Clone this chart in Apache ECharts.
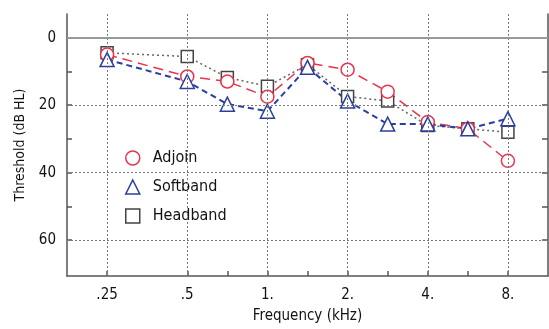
<!DOCTYPE html>
<html>
<head>
<meta charset="utf-8">
<script src="https://cdn.jsdelivr.net/npm/echarts@6/dist/echarts.min.js"></script>
<style>
  html, body { margin: 0; padding: 0; background: #fff; }
  #audiogram { width: 549px; height: 329px; }
</style>
</head>
<body>
<div id="audiogram"></div>
<script>
// frequency positions on the audiogram (750, 1500, 3000, 6000 sit halfway)
var freqPos = [0, 2, 3, 4, 5, 6, 7, 8, 9, 10];
var freqLabels = { 0: '.25', 2: '.5', 4: '1.', 6: '2.', 8: '4.', 10: '8.' };
var yTickLabels = [0, 20, 40, 60];

var adjoin = [5, 11.5, 13, 17.5, 7.5, 9.5, 16, 25, 27, 36.5];
var softband = [6.5, 13, 19.7, 21.8, 8.8, 18.8, 25.6, 25.6, 27, 24];
var headband = [4.5, 5.6, 11.8, 14.4, 8, 17.4, 18.8, 26, 27, 28];

var font = '"Liberation Sans Narrow", "DejaVu Sans Condensed", sans-serif';

function pairs(vals) {
  return vals.map(function (v, i) { return [freqPos[i], v]; });
}

var chart = echarts.init(document.getElementById('audiogram'));

var gridLines = [];
[0, 2, 4, 6, 8, 10].forEach(function (x) {
  gridLines.push({ xAxis: x, lineStyle: { type: [2, 2], color: '#777', width: 1 } });
});
[20, 40, 60].forEach(function (y) {
  gridLines.push({ yAxis: y, lineStyle: { type: [2, 2], color: '#777', width: 1 } });
});
gridLines.push({ yAxis: 0, lineStyle: { type: 'solid', color: '#999', width: 2 } });

var option = {
  animation: false,
  grid: { left: 67, right: 1, top: 14, bottom: 51 },
  legend: {
    orient: 'vertical',
    left: 110,
    top: 123,
    padding: [27, 60, 20, 15],
    itemGap: 13,
    itemWidth: 14,
    itemHeight: 14,
    backgroundColor: '#fff',
    textStyle: { fontFamily: font, fontSize: 16, color: '#111', padding: [0, 0, 0, 8] },
    data: [
      { name: 'Adjoin', icon: 'circle', itemStyle: { color: '#fff', borderColor: '#e8344c', borderWidth: 1.5 } },
      { name: 'Softband', icon: 'triangle', itemStyle: { color: '#fff', borderColor: '#2b3f9e', borderWidth: 1.5 } },
      { name: 'Headband', icon: 'rect', itemStyle: { color: '#fff', borderColor: '#444', borderWidth: 1.5 } }
    ]
  },
  xAxis: {
    type: 'value',
    min: -1,
    max: 11,
    name: 'Frequency (kHz)',
    nameLocation: 'middle',
    nameGap: 33,
    nameTextStyle: { fontFamily: font, fontSize: 15, color: '#111' },
    axisLine: { onZero: false, lineStyle: { color: '#555', width: 1.5 } },
    axisTick: { inside: true, length: 5, customValues: [0, 2, 3, 4, 5, 6, 7, 8, 9, 10], lineStyle: { color: '#555', width: 1.5 } },
    axisLabel: {
      customValues: [0, 2, 4, 6, 8, 10],
      margin: 12,
      fontFamily: font,
      fontSize: 15,
      color: '#111',
      formatter: function (v) { return freqLabels[v] || ''; }
    },
    splitLine: { show: false }
  },
  yAxis: [
    {
      type: 'value',
      inverse: true,
      min: -7,
      max: 70.6,
      name: 'Threshold (dB HL)',
      nameLocation: 'middle',
      nameGap: 40,
      nameTextStyle: { fontFamily: font, fontSize: 14, color: '#111' },
      axisLine: { show: true, onZero: false, lineStyle: { color: '#555', width: 1.5 } },
      axisTick: { show: true, inside: true, length: 5, customValues: [0, 10, 20, 30, 40, 50, 60], lineStyle: { color: '#555', width: 1.5 } },
      axisLabel: { customValues: yTickLabels, margin: 11, fontFamily: font, fontSize: 15, color: '#111' },
      splitLine: { show: false }
    },
    {
      type: 'value',
      inverse: true,
      position: 'right',
      min: -7,
      max: 70.6,
      axisLine: { show: true, onZero: false, lineStyle: { color: '#555', width: 1.5 } },
      axisTick: { show: true, inside: true, length: 6, customValues: [10, 20, 30, 40, 50, 60], lineStyle: { color: '#555', width: 1.5 } },
      axisLabel: { show: false },
      splitLine: { show: false }
    }
  ],
  series: [
    {
      name: 'grid',
      type: 'line',
      data: [],
      silent: true,
      markLine: { silent: true, symbol: 'none', label: { show: false }, data: gridLines }
    },
    {
      name: 'Headband',
      type: 'line',
      data: pairs(headband),
      symbol: 'rect',
      symbolSize: 12,
      color: '#444',
      lineStyle: { color: '#666', width: 1.5, type: [2, 3] },
      itemStyle: { color: '#fff', borderColor: '#444', borderWidth: 1.5 }
    },
    {
      name: 'Adjoin',
      type: 'line',
      data: pairs(adjoin),
      symbol: 'circle',
      symbolSize: 13,
      color: '#e8344c',
      lineStyle: { color: '#e8344c', width: 1.5, type: [10, 6] },
      itemStyle: { color: '#fff', borderColor: '#e8344c', borderWidth: 1.5 }
    },
    {
      name: 'Softband',
      type: 'line',
      data: pairs(softband),
      symbol: 'triangle',
      symbolSize: 14,
      color: '#2b3f9e',
      lineStyle: { color: '#2b3f9e', width: 2, type: [6, 4] },
      itemStyle: { color: '#fff', borderColor: '#2b3f9e', borderWidth: 1.5 }
    }
  ]
};

chart.setOption(option);
</script>
</body>
</html>
